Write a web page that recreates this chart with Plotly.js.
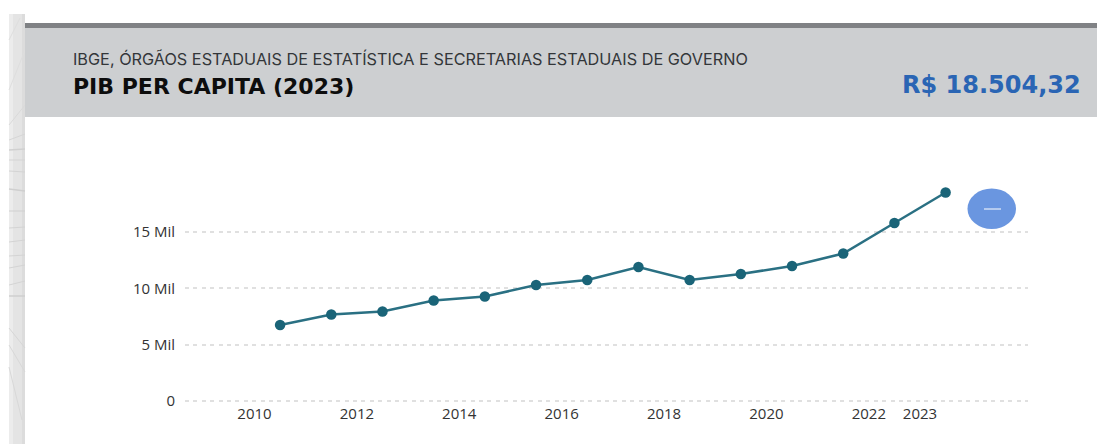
<!DOCTYPE html>
<html>
<head>
<meta charset="utf-8">
<script src="https://cdn.plot.ly/plotly-3.0.1.min.js"></script>
<style>html,body{margin:0;padding:0;background:#fff;overflow:hidden}#chart{width:1097px;height:444px}</style>
</head>
<body>
<div id="chart"></div>
<script>
const years = [2010,2011,2012,2013,2014,2015,2016,2017,2018,2019,2020,2021,2022,2023];
const pibPerCapita = [6740,7670,7940,8920,9270,10290,10740,11890,10740,11270,11980,13090,15790,18504.32];
const xTickYears = [2010,2012,2014,2016,2018,2020,2022,2023];
const xTickLabels = ["2010","2012","2014","2016","2018","2020","2022","2023"];
const yTickValues = [0,5000,10000,15000];
const yTickLabels = ["0","5 Mil","10 Mil","15 Mil"];
const subtitleText = "IBGE, ÓRGÃOS ESTADUAIS DE ESTATÍSTICA E SECRETARIAS ESTADUAIS DE GOVERNO";
const titleText = "PIB PER CAPITA (2023)";
const valueText = "R$ 18.504,32";

const W = 1097, H = 444;
const fx = p => p / W;
const fy = p => 1 - p / H;
const rect = (x0, y0, x1, y1, color) => ({type:"rect", xref:"paper", yref:"paper", layer:"below",
  x0:fx(x0), x1:fx(x1), y0:fy(y0), y1:fy(y1), fillcolor:color, line:{width:0}});
const seg = (x0, y0, x1, y1, color, w) => ({type:"line", xref:"paper", yref:"paper", layer:"below",
  x0:fx(x0), x1:fx(x1), y0:fy(y0), y1:fy(y1), line:{color:color, width:w}});

const shapes = [
  rect(9,14,13,444,"#ececec"), rect(13,14,22,444,"#e4e4e4"), rect(22,14,25,444,"#dcdcdc"),
  seg(9,40,20,18,"#dedede",1), seg(9,90,25,50,"#dedede",1), seg(9,125,25,105,"#dadada",1),
  seg(9,140,25,134,"#d6d6d6",1), seg(9,150,25,149,"#d0d0d0",1.5), seg(9,160,25,160,"#d4d4d4",1),
  seg(9,171,25,172,"#d4d4d4",1), seg(9,189,25,191,"#cfcfcf",1.5), seg(9,211,25,211,"#d0d0d0",1),
  seg(9,228,25,227,"#d4d4d4",1), seg(9,242,25,240,"#d4d4d4",1), seg(9,256,25,255,"#d4d4d4",1),
  seg(9,268,25,265,"#d4d4d4",1), seg(9,285,25,281,"#d4d4d4",1), seg(9,296,25,296,"#cfcfcf",1.5),
  seg(9,328,25,348,"#d6d6d6",1), seg(9,345,25,372,"#d8d8d8",1), seg(9,367,22,420,"#d8d8d8",1),
  rect(25,23,1097,28,"#808285"), rect(25,28,1097,117,"#cdcfd1"),
  {type:"circle", xref:"paper", yref:"paper", layer:"above", x0:fx(967.5), x1:fx(1016), y0:fy(188.5), y1:fy(229),
   fillcolor:"#6a96e0", line:{width:0}},
  seg(984,209,1001,209,"#ffffff",1)
];
shapes[shapes.length-1].layer = "above";

const annotations = [
  {text:subtitleText, x:fx(71), y:fy(59), xanchor:"left", yanchor:"middle", xref:"paper", yref:"paper", showarrow:false,
   font:{family:"Inter, sans-serif", size:16.25, color:"#333639"}},
  {text:"<b>"+titleText+"</b>", x:fx(71), y:fy(86), xanchor:"left", yanchor:"middle", xref:"paper", yref:"paper", showarrow:false,
   font:{family:"'DejaVu Sans', sans-serif", size:22, color:"#0d0d0d"}},
  {text:"<b>"+valueText+"</b>", x:fx(1083), y:fy(85), xanchor:"right", yanchor:"middle", xref:"paper", yref:"paper", showarrow:false,
   font:{family:"'DejaVu Sans', sans-serif", size:24, color:"#2a65b4"}}
];

const trace = {
  x: years.map(y => y + 0.5),
  y: pibPerCapita,
  type: "scatter",
  mode: "lines+markers",
  line: {color:"#2a7083", width:2.5},
  marker: {color:"#1a6478", size:10.5},
  cliponaxis: false,
  hoverinfo: "skip"
};

const layout = {
  width: W, height: H,
  margin: {l:0, r:0, t:0, b:0, pad:0},
  paper_bgcolor: "#ffffff",
  plot_bgcolor: "rgba(0,0,0,0)",
  showlegend: false,
  font: {family:"'Open Sans', sans-serif", size:15, color:"#333"},
  shapes, annotations,
  xaxis: {
    domain: [fx(185), fx(1028)],
    range: [2010 - 69.5/51.2, 2023 + 108/51.2],
    anchor: "free", position: fy(403),
    tickmode: "array", tickvals: xTickYears, ticktext: xTickLabels,
    showgrid: false, zeroline: false, showline: false,
    ticks: "",
    tickfont: {family:"'Open Sans', sans-serif", size:15, color:"#333"}
  },
  yaxis: {
    domain: [fy(406), fy(170)],
    range: [-5/11.27*1000, (401-170)/11.27*1000],
    tickmode: "array", tickvals: yTickValues, ticktext: yTickLabels,
    showgrid: true, gridcolor: "#e0e0e0", gridwidth: 2, griddash: "4px,4.4px",
    zeroline: false, showline: false,
    ticks: "outside", ticklen: 6, tickcolor: "rgba(0,0,0,0)",
    tickfont: {family:"'Open Sans', sans-serif", size:15, color:"#333"}
  }
};

Plotly.newPlot("chart", [trace], layout, {displayModeBar:false, staticPlot:true});
</script>
</body>
</html>
